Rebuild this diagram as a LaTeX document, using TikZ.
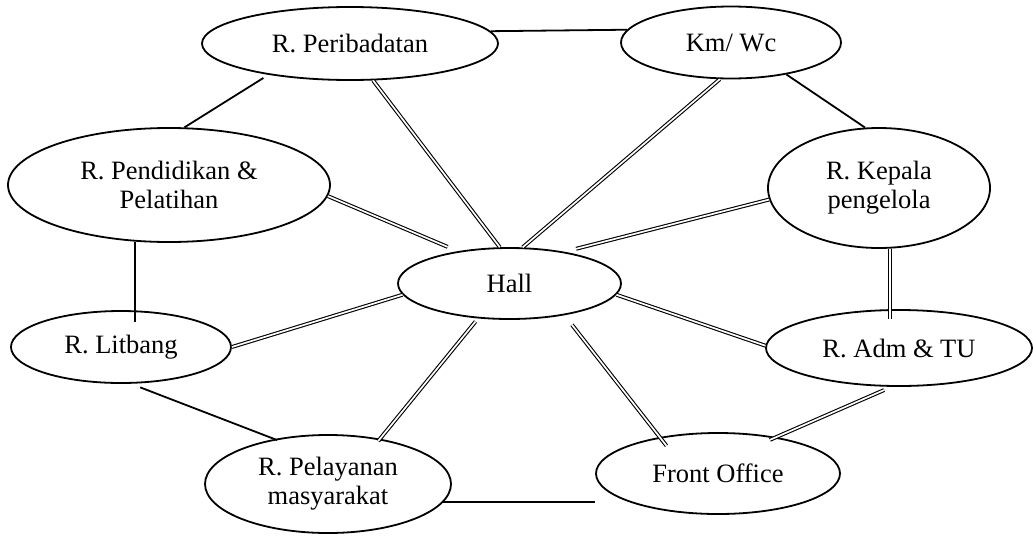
\documentclass[tikz,border=0pt]{standalone}
\usepackage{fontspec}
\setmainfont{Liberation Serif}
\usetikzlibrary{shapes.geometric}
\begin{document}
\begin{tikzpicture}[x=1pt,y=-1pt,
  room/.style={ellipse, draw, line width=1.8pt, inner sep=0pt, align=center,
               font=\fontsize{26.5}{29}\selectfont},
  link/.style={line width=1.8pt},
  duct/.style={double, line width=1.1pt, double distance=1.7pt}]
\useasboundingbox (0,0) rectangle (1033,536);

% rooms
\node[room, minimum width=296pt, minimum height=73pt]  (per)   at (350,43.5)  {R. Peribadatan};
\node[room, minimum width=220pt, minimum height=72pt]  (km)    at (731,42.5)  {Km/ Wc};
\node[room, minimum width=322pt, minimum height=114pt] (pend)  at (169,185)   {R. Pendidikan \&\\Pelatihan};
\node[room, minimum width=222pt, minimum height=120pt] (kep)   at (879,188)   {R. Kepala\\pengelola};
\node[room, minimum width=223pt, minimum height=71pt]  (hall)  at (509.5,283.5) {Hall};
\node[room, minimum width=220pt, minimum height=72pt]  (lit)   at (121,347)   {R. Litbang};
\node[room, minimum width=266pt, minimum height=76pt]  (adm)   at (899,348)   {R. Adm \& TU};
\node[room, minimum width=246pt, minimum height=98pt]  (pel)   at (328,484)   {R. Pelayanan\\masyarakat};
\node[room, minimum width=244pt, minimum height=81pt]  (front) at (718,473.5) {Front Office};

% single links between neighbouring rooms
\draw[link, shorten <=6pt] (per.-159) -- (pend.75);
\draw[link] (per.5) -- (km.173);
\draw[link] (km.-30) -- (kep.103);
\draw[link, shorten >=-12pt] (pend.-121) -- (pend.-121 |- lit.north);
\draw[link, shorten <=10pt, shorten >=-3pt] (lit.-75) -- (pel.140);
\draw[link] (pel.-9) -- (pel.-9 -| front.west);

% double links from the hall
\draw[duct] (hall.105) -- (per.-58);
\draw[duct] (hall.70) -- (km.-107);
\draw[duct, shorten <=11pt] (hall.148) -- (pend.-4);
\draw[duct, shorten <=12pt] (hall.30) -- (kep.-174);
\draw[duct] (hall.186) -- (lit.0);
\draw[duct] (hall.-6) -- (adm.179);
\draw[duct, shorten <=4pt, shorten >=-3pt] (hall.-132) -- (pel.41);
\draw[duct, shorten <=12pt, shorten >=-11pt] (hall.-30) -- (front.148);

% double links on the right side
\draw[duct, shorten >=-10pt] (kep.-80) -- (kep.-80 |- adm.north);
\draw[duct, shorten <=8pt, shorten >=-7pt] (adm.-101) -- (front.32);
\end{tikzpicture}
\end{document}
